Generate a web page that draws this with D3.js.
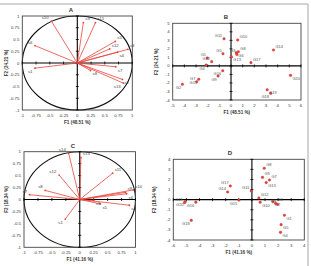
<!DOCTYPE html>
<html>
<head>
<meta charset="utf-8">
<script src="https://cdn.jsdelivr.net/npm/d3@7"></script>
<style>
  body { margin: 0; background: #fff; }
  text { font-family: "Liberation Sans", Arial, sans-serif; }
</style>
</head>
<body>
<div id="chart"></div>
<script>
// panel A: variable loadings (F1 48.51 %, F2 24.21 %)
var aNames = ["s10", "s9", "s11", "s6", "s5", "s12", "s4", "s3", "s1", "s7", "s8", "s2", "s13"];
var aF1 = [-0.47, 0.11, 0.33, -0.77, 0.69, 0.59, 0.73, 0.92, -0.77, 0.70, 0.24, 0.82, 0.84];
var aF2 = [0.89, 0.86, 0.86, 0.37, 0.46, 0.30, 0.23, 0.29, -0.11, -0.08, -0.16, -0.35, -0.43];

// panel B: genotype scores
var bNames = ["G11", "G10", "G5", "G8", "G6", "G3", "G13", "G1", "G12", "G4", "G17", "G14", "G20", "G19", "G18", "G16", "G9", "G15", "G7", "G2"];
var bF1 = [-0.6, 0.57, -0.69, 0.63, 0.45, 0.5, 0.03, -2.03, -1.66, -2.14, 1.71, 3.64, 5.1, 3.1, 3.4, -0.71, -1.11, -2.77, -2.94, -4.17];
var bF2 = [3.19, 3.04, 1.43, 1.67, 1.55, 1.35, 1.08, 0.93, 0.5, 0.1, 0.38, 1.87, -1.11, -2.8, -3.22, -0.56, -1.19, -1.57, -1.85, -2.16];

// panel C: variable loadings (F1 41.16 %, F2 18.34 %)
var cNames = ["s13", "s14", "s12", "s8", "s7", "s11", "s9", "s10", "s6", "s4", "s5", "s3", "s1"];
var cF1 = [0.02, -0.20, -0.37, -0.62, -0.90, 0.59, 0.82, 0.96, 0.84, 0.89, 0.37, 0.25, -0.26];
var cF2 = [0.88, 0.97, 0.51, 0.19, 0.10, 0.55, 0.15, 0.20, 0.12, -0.12, -0.09, -0.02, -0.41];

// panel D: genotype scores
var dNames = ["G8", "G9", "G7", "G13", "G17", "G14", "G11", "G12", "G10", "G20", "G19", "G16", "G15", "G2", "G3", "G6", "G1", "G5", "G4", "G18"];
var dF1 = [0.94, 0.81, 1.34, 1.09, -1.65, -1.85, -0.05, 0.53, 0.63, -5.09, -5.15, -4.28, -0.99, 1.6, 1.8, 1.95, 2.48, 2.23, 2.18, -4.63];
var dF2 = [3.11, 2.21, 1.95, 1.69, 1.36, 0.76, 0.86, 0.17, -0.26, -0.2, -0.3, -0.25, -0.03, -0.2, -0.35, -0.45, -1.55, -2.48, -3.24, -2.05];

var loadTicks = [-1, -0.75, -0.5, -0.25, 0, 0.25, 0.5, 0.75, 1];
var bXTicks = [-5, -4, -3, -2, -1, 0, 1, 2, 3, 4, 5, 6];
var bYTicks = [-4, -3, -2, -1, 0, 1, 2, 3, 4, 5];
var dXTicks = [-6, -5, -4, -3, -2, -1, 0, 1, 2, 3, 4];
var dYTicks = [-4, -3, -2, -1, 0, 1, 2, 3, 4];

var svg = d3.select("#chart").append("svg")
    .attr("width", 311)
    .attr("height", 266);

// page frame
svg.append("line").attr("x1", 0).attr("x2", 308).attr("y1", 4).attr("y2", 4)
    .attr("stroke", "#c4c4c4").attr("stroke-width", 1.5);
svg.append("line").attr("x1", 308).attr("x2", 308).attr("y1", 4).attr("y2", 266)
    .attr("stroke", "#c4c4c4").attr("stroke-width", 1.5);

var red = "#e8443a";

// greedy label placement: try spots around the point, keep the first free one
function placeLabels(rows, x, y, fs) {
    var boxes = [];
    function hits(bx, by, w, h) {
        return boxes.some(function(b) {
            return bx < b.x + b.w && bx + w > b.x && by < b.y + b.h && by + h > b.y;
        });
    }
    rows.forEach(function(d) {
        var px = x(d.f1), py = y(d.f2);
        var w = d.name.length * fs * 0.64, h = fs * 0.9;
        var left = d.f1 < 0, up = d.f2 >= 0;
        var cands = [
            [left, up], [left, !up], [!left, up], [!left, !up]
        ];
        var pick = null;
        for (var i = 0; i < cands.length; i++) {
            var bx = cands[i][0] ? px - 1.5 - w : px + 2;
            var by = cands[i][1] ? py - 1.5 - h : py + 1.5;
            if (!hits(bx, by, w, h)) { pick = { x: bx, y: by, w: w, h: h }; break; }
        }
        if (!pick) {
            var bx0 = left ? px - 1.5 - w : px + 2;
            var by0 = up ? py - 1.5 - h : py + 1.5;
            while (hits(bx0, by0, w, h)) { by0 += 1; }
            pick = { x: bx0, y: by0, w: w, h: h };
        }
        boxes.push(pick);
        d.lx = pick.x;
        d.ly = pick.y + h * 0.85;
    });
}

function panel(p) {
    var g = svg.append("g");
    var x = d3.scaleLinear().domain(p.xDomain).range([p.left, p.right]);
    var y = d3.scaleLinear().domain(p.yDomain).range([p.bottom, p.top]);

    if (p.circle) {
        g.append("ellipse")
            .attr("cx", x(0)).attr("cy", y(0))
            .attr("rx", x(1) - x(0)).attr("ry", y(0) - y(1))
            .attr("fill", "none").attr("stroke", "#111").attr("stroke-width", 1.1);
    }

    g.append("rect")
        .attr("x", p.left).attr("y", p.top)
        .attr("width", p.right - p.left).attr("height", p.bottom - p.top)
        .attr("fill", "none").attr("stroke", "#444").attr("stroke-width", 0.9);

    // axes through the origin
    g.append("line").attr("x1", p.left).attr("x2", p.right).attr("y1", y(0)).attr("y2", y(0))
        .attr("stroke", "#000").attr("stroke-width", 1.1);
    g.append("line").attr("x1", x(0)).attr("x2", x(0)).attr("y1", p.top).attr("y2", p.bottom)
        .attr("stroke", "#000").attr("stroke-width", 1.1);

    g.selectAll(".xt").data(p.xTicks).enter().append("line")
        .attr("x1", d => x(d)).attr("x2", d => x(d))
        .attr("y1", y(0) - 1.5).attr("y2", y(0) + 1.5)
        .attr("stroke", "#000").attr("stroke-width", 0.8);
    g.selectAll(".yt").data(p.yTicks).enter().append("line")
        .attr("y1", d => y(d)).attr("y2", d => y(d))
        .attr("x1", x(0) - 1.5).attr("x2", x(0) + 1.5)
        .attr("stroke", "#000").attr("stroke-width", 0.8);

    g.selectAll(".xl").data(p.xTicks).enter().append("text")
        .attr("x", d => x(d)).attr("y", p.bottom + 7)
        .attr("text-anchor", "middle")
        .style("font-size", "4.3px").attr("fill", "#333")
        .text(d => d);
    g.selectAll(".yl").data(p.yTicks).enter().append("text")
        .attr("x", p.left - 3).attr("y", d => y(d) + 1.5)
        .attr("text-anchor", "end")
        .style("font-size", "4.3px").attr("fill", "#333")
        .text(d => d);

    g.append("text")
        .attr("x", p.titleX).attr("y", p.top - 4)
        .attr("text-anchor", "middle")
        .style("font-size", "6px").style("font-weight", "bold").attr("fill", "#333")
        .text(p.title);

    g.append("text")
        .attr("x", (p.left + p.right) / 2).attr("y", p.bottom + 14)
        .attr("text-anchor", "middle")
        .style("font-size", "4.6px").style("font-weight", "bold").attr("fill", "#333")
        .text(p.xLabel);
    g.append("text")
        .attr("transform", "translate(" + p.yLabelX + "," + (p.top + p.bottom) / 2 + ") rotate(-90)")
        .attr("text-anchor", "middle")
        .style("font-size", "4.6px").style("font-weight", "bold").attr("fill", "#333")
        .text(p.yLabel);

    var rows = p.names.map(function(n, i) { return { name: n, f1: p.f1[i], f2: p.f2[i] }; });
    var fs = p.circle ? 4.3 : 4;
    placeLabels(rows, x, y, fs);

    if (p.circle) {
        g.selectAll(".arrow").data(rows).enter().append("line")
            .attr("x1", x(0)).attr("y1", y(0))
            .attr("x2", d => x(d.f1)).attr("y2", d => y(d.f2))
            .attr("stroke", red).attr("stroke-width", 0.8);
        g.selectAll(".tip").data(rows).enter().append("circle")
            .attr("cx", d => x(d.f1)).attr("cy", d => y(d.f2))
            .attr("r", 0.9).attr("fill", red);
    } else {
        g.selectAll(".pt").data(rows).enter().append("circle")
            .attr("cx", d => x(d.f1)).attr("cy", d => y(d.f2))
            .attr("r", 1.3).attr("fill", red).attr("stroke", "#b22").attr("stroke-width", 0.3);
    }
    g.selectAll(".lab").data(rows).enter().append("text")
        .attr("x", d => d.lx)
        .attr("y", d => d.ly)
        .style("font-size", fs + "px").attr("fill", p.circle ? "#444" : "#555")
        .text(d => d.name);
}

panel({ title: "A", titleX: 71, circle: true,
    left: 22.3, right: 132.3, top: 16, bottom: 110,
    xDomain: [-1, 1], yDomain: [-1, 1], xTicks: loadTicks, yTicks: loadTicks,
    xLabel: "F1 (48.51 %)", yLabel: "F2 (24.21 %)", yLabelX: 8,
    names: aNames, f1: aF1, f2: aF2 });

panel({ title: "B", titleX: 226, circle: false,
    left: 172.7, right: 301, top: 23.3, bottom: 100,
    xDomain: [-5, 6], yDomain: [-4, 5], xTicks: bXTicks, yTicks: bYTicks,
    xLabel: "F1 (48.51 %)", yLabel: "F2 (24.21 %)", yLabelX: 158,
    names: bNames, f1: bF1, f2: bF2 });

panel({ title: "C", titleX: 73, circle: true,
    left: 24, right: 135.5, top: 151.7, bottom: 247.3,
    xDomain: [-1, 1], yDomain: [-1, 1], xTicks: loadTicks, yTicks: loadTicks,
    xLabel: "F1 (41.16 %)", yLabel: "F2 (18.34 %)", yLabelX: 8,
    names: cNames, f1: cF1, f2: cF2 });

panel({ title: "D", titleX: 230, circle: false,
    left: 173.3, right: 304.3, top: 159.3, bottom: 240,
    xDomain: [-6, 4], yDomain: [-4, 4], xTicks: dXTicks, yTicks: dYTicks,
    xLabel: "F1 (41.16 %)", yLabel: "F2 (18.34 %)", yLabelX: 156,
    names: dNames, f1: dF1, f2: dF2 });
</script>
</body>
</html>
